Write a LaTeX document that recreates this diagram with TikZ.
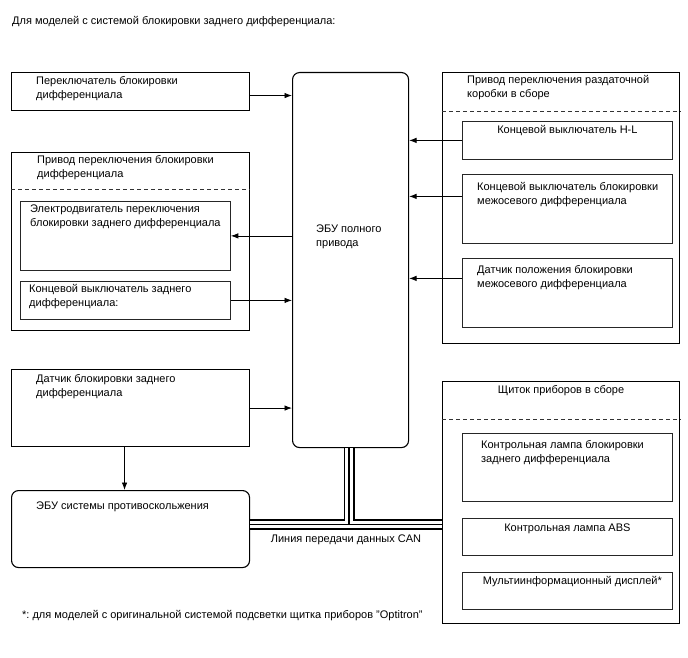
\documentclass[tikz,border=0pt]{standalone}
\usepackage{fontspec}
\setmainfont{Liberation Sans}
\frenchspacing
\usetikzlibrary{arrows.meta,positioning}
\tikzstyle{outer}=[
	rectangle,
	draw=black,
	line width=1.1pt,
	inner sep=0,
	anchor=north west]
\tikzstyle{subbox}=[
	rectangle,
	draw=black!85,
	line width=.8pt,
	inner sep=0,
	minimum width=210pt,
	anchor=north west]
\tikzstyle{ecubox}=[
	rectangle,
	rounded corners=7pt,
	draw=black,
	line width=1.1pt,
	inner sep=0,
	anchor=north west]
\tikzstyle{lbl}=[
	inner sep=0,
	align=left,
	font=\fontsize{11}{14}\selectfont]
\tikzstyle{sep}=[
	draw=black!80,
	line width=.6pt,
	dash pattern=on 4pt off 3pt]
\tikzstyle{wire}=[
	->,
	line width=.8pt]

\begin{document}
\begin{tikzpicture}[x=1pt,y=-1pt,>={Latex[length=7.5pt,width=5.5pt]}]
	\useasboundingbox (0,0) rectangle (688,658);
	\node[lbl,anchor=west] (title) at (12,22) {Для моделей с системой блокировки заднего дифференциала:};
	% ECU
	\node[ecubox,minimum width=116pt,minimum height=375pt] (ecu) at (292,72) {};
	\node[lbl,anchor=north west] (ecutxt) at ([xshift=24pt,yshift=-153pt]ecu.north west) {ЭБУ полного\\привода};
	% left side
	\begin{scope}
		\node[outer,minimum width=238pt,minimum height=38pt] (locksw) at (11,72) {};
		\node[lbl,anchor=north west] (lockswtxt) at ([xshift=25pt,yshift=-4pt]locksw.north west) {Переключатель блокировки\\дифференциала};
		\node[outer,minimum width=238pt,minimum height=178pt] (lockact) at (11,152) {};
		\node[lbl,anchor=north west] (lockacttxt) at ([xshift=26pt,yshift=-3pt]lockact.north west) {Привод переключения блокировки\\дифференциала};
		\draw[sep] ([yshift=-37pt]lockact.north west) -- ([yshift=-37pt]lockact.north east);
		\node[subbox,minimum height=69pt] (motor) at (20,201) {};
		\node[lbl,anchor=north west] (motortxt) at ([xshift=10pt,yshift=-4pt]motor.north west) {Электродвигатель переключения\\блокировки заднего дифференциала};
		\node[subbox,minimum height=38pt] (rearsw) at (20,281) {};
		\node[lbl,anchor=north west] (rearswtxt) at ([xshift=9pt,yshift=-3pt]rearsw.north west) {Концевой выключатель заднего\\дифференциала:};
		\node[outer,minimum width=238pt,minimum height=77pt] (rearsens) at (11,369) {};
		\node[lbl,anchor=north west] (rearsenstxt) at ([xshift=25pt,yshift=-5pt]rearsens.north west) {Датчик блокировки заднего\\дифференциала};
		\node[ecubox,minimum width=238pt,minimum height=77pt] (skid) at (11,490) {};
		\node[lbl,anchor=north west] (skidtxt) at ([xshift=25pt,yshift=-12pt]skid.north west) {ЭБУ системы противоскольжения};
	\end{scope}
	% right side
	\begin{scope}
		\node[outer,minimum width=237pt,minimum height=271pt] (tfact) at (442,72) {};
		\node[lbl,anchor=north west] (tfacttxt) at ([xshift=25pt,yshift=-3pt]tfact.north west) {Привод переключения раздаточной\\коробки в сборе};
		\draw[sep] ([yshift=-39pt]tfact.north west) -- ([yshift=-39pt]tfact.north east);
		\node[subbox,minimum height=38pt] (hlsw) at (462,121) {};
		\node[lbl,anchor=north] (hlswtxt) at ([yshift=-4pt]hlsw.north) {Концевой выключатель H-L};
		\node[subbox,minimum height=69pt] (cdsw) at (462,174) {};
		\node[lbl,anchor=north west] (cdswtxt) at ([xshift=15pt,yshift=-8pt]cdsw.north west) {Концевой выключатель блокировки\\межосевого дифференциала};
		\node[subbox,minimum height=69pt] (cdpos) at (462,258) {};
		\node[lbl,anchor=north west] (cdpostxt) at ([xshift=15pt,yshift=-7pt]cdpos.north west) {Датчик положения блокировки\\межосевого дифференциала};
		\node[outer,minimum width=237pt,minimum height=242pt] (meter) at (442,381) {};
		\node[lbl,anchor=north] (metertxt) at ([yshift=-4pt]meter.north) {Щиток приборов в сборе};
		\draw[sep] ([yshift=-38pt]meter.north west) -- ([yshift=-38pt]meter.north east);
		\node[subbox,minimum height=68pt] (lamp) at (462,433) {};
		\node[lbl,anchor=north west] (lamptxt) at ([xshift=19pt,yshift=-7pt]lamp.north west) {Контрольная лампа блокировки\\заднего дифференциала};
		\node[subbox,minimum height=37pt] (abslamp) at (462,518) {};
		\node[lbl,anchor=north] (abslamptxt) at ([yshift=-6pt]abslamp.north) {Контрольная лампа ABS};
		\node[subbox,minimum height=37pt] (multi) at (462,572) {};
		\node[lbl,anchor=north] (multitxt) at ([xshift=5pt,yshift=-4pt]multi.north) {Мультиинформационный дисплей*};
	\end{scope}
	% signals
	\draw[wire] ([yshift=-4pt]locksw.east) -- ([yshift=-4pt]locksw.east -| ecu.west);
	\draw[wire] (motor.east -| ecu.west) -- (motor.east);
	\draw[wire] (rearsw.east) -- (rearsw.east -| ecu.west);
	\draw[wire] (rearsens.east) -- (rearsens.east -| ecu.west);
	\draw[wire] ([xshift=-6pt]rearsens.south) -- ([xshift=-6pt]rearsens.south |- skid.north);
	\draw[wire] (hlsw.west) -- (hlsw.west -| ecu.east);
	\draw[wire] ([yshift=12.5pt]cdsw.west) -- ([yshift=12.5pt]cdsw.west -| ecu.east);
	\draw[wire] ([yshift=14.5pt]cdpos.west) -- ([yshift=14.5pt]cdpos.west -| ecu.east);
	% CAN
	\coordinate (bus) at (349,524.5);
	\foreach \w/\c in {11/black,7.5/white,1.5/black}
		\draw[line width=\w pt,draw=\c] (ecu.south -| bus) -- (bus) (skid.east |- bus) -- (meter.west |- bus);
	\node[lbl,below=10pt of bus,xshift=-3pt] (cantxt) {Линия передачи данных CAN};
	\node[lbl,anchor=west] (note) at (22,616) {*: для моделей с оригинальной системой подсветки щитка приборов "Optitron"};
\end{tikzpicture}
\end{document}
